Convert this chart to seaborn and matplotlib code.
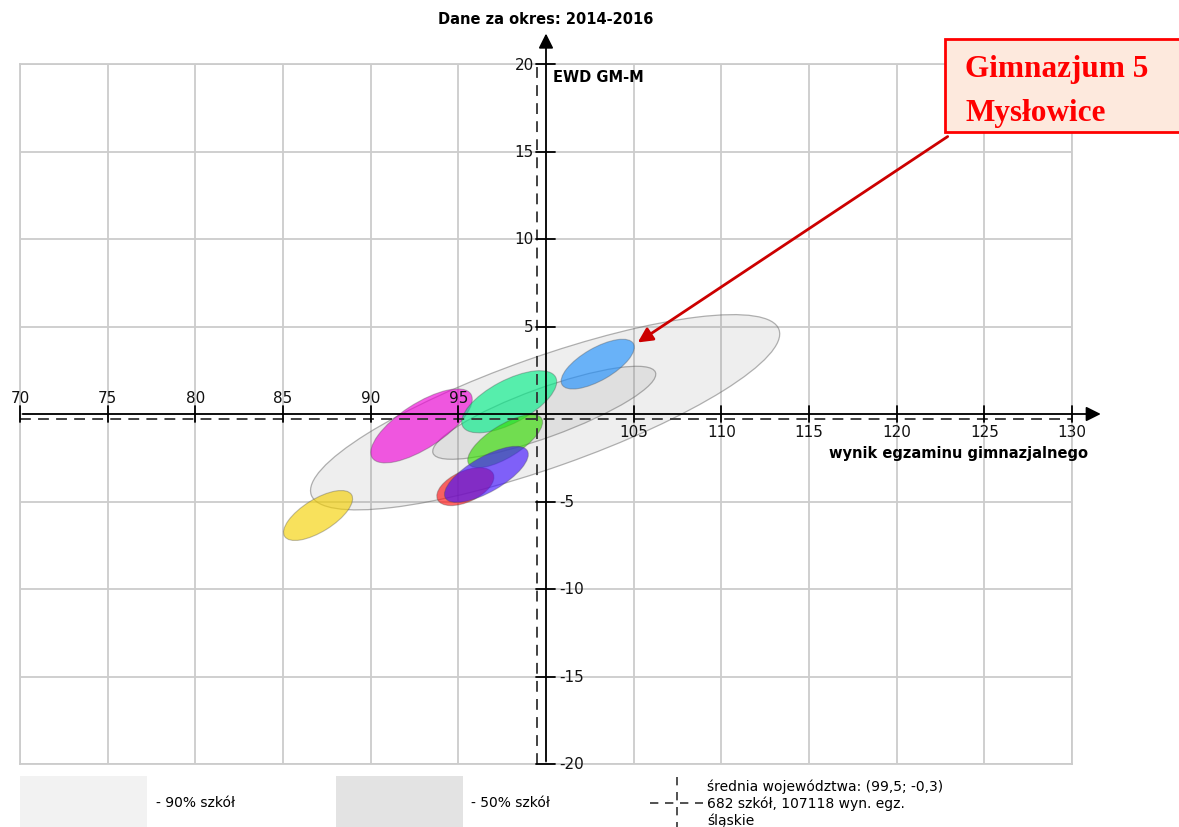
import matplotlib
matplotlib.use("Agg")
import matplotlib.pyplot as plt
from matplotlib.patches import Ellipse, Rectangle
from matplotlib.lines import Line2D
from matplotlib.colors import to_rgba
import seaborn as sns
import numpy as np

# --- data ---
# grey reference ellipses (90% / 50% of schools)
ref_labels = ["90%", "50%"]
ref_x = [99.95, 99.9]
ref_y = [0.1, 0.07]
ref_w = [28.3, 13.5]
ref_h = [6.3, 2.8]
ref_angle = [19.5, 20.0]

# school ellipses (yearly results)
school_x = [87.0, 92.9, 97.9, 97.67, 95.4, 96.6, 102.95]
school_y = [-5.8, -0.68, 0.7, -1.55, -4.15, -3.45, 2.85]
school_w = [4.5, 6.7, 6.0, 4.9, 3.5, 5.4, 4.7]
school_h = [1.85, 2.55, 2.45, 1.85, 1.75, 2.0, 1.85]
school_angle = [32, 33, 28, 32, 25, 30, 30]
school_colors = ["#f5d000", "#f000d8", "#00ee88", "#33dd00", "#ff1010", "#4010ff", "#1e90ff"]

mean_x, mean_y = 99.5, -0.3
target_x, target_y = 105.1, 4.0

x_ticks = list(range(70, 131, 5))
y_ticks = list(range(-20, 21, 5))

sns.set_theme(style="whitegrid")
plt.rcParams["font.family"] = ["DejaVu Sans"]
plt.rcParams["text.color"] = "black"

W, H = 1179, 828
fig = plt.figure(figsize=(W / 100, H / 100), dpi=100)
ax = fig.add_axes([20 / W, 63 / H, 1052 / W, 700 / H])
ax.set_xlim(70, 130)
ax.set_ylim(-20, 20)
ax.set_xticks(x_ticks)
ax.set_yticks(y_ticks)
ax.set_xticklabels([])
ax.set_yticklabels([])
ax.tick_params(length=0)
ax.grid(True, color="#cccccc", lw=1.3)
for s in ax.spines.values():
    s.set_color("#cccccc")
    s.set_linewidth(1.3)

# grey ellipses
for i in range(len(ref_x)):
    ax.add_patch(Ellipse((ref_x[i], ref_y[i]), ref_w[i], ref_h[i], angle=ref_angle[i],
                         facecolor=(0.5, 0.5, 0.5, 0.13), edgecolor=(0.4, 0.4, 0.4, 0.5), lw=0.9))

# school ellipses
for i in range(len(school_x)):
    ax.add_patch(Ellipse((school_x[i], school_y[i]), school_w[i], school_h[i], angle=school_angle[i],
                         facecolor=to_rgba(school_colors[i], 0.64),
                         edgecolor=(0.3, 0.3, 0.3, 0.35), lw=0.8))

# mean dashed lines
ax.plot([70, 130], [mean_y, mean_y], color="#333333", lw=1.3, ls=(0, (6, 4)), zorder=5)
ax.plot([mean_x, mean_x], [-20, 20], color="#333333", lw=1.3, ls=(0, (6, 4)), zorder=5)

# solid axes with arrows
ax.annotate("", xy=(131.8, 0), xytext=(70, 0),
            arrowprops=dict(arrowstyle="-|>", color="black", lw=1.3, mutation_scale=22),
            annotation_clip=False, zorder=6)
ax.annotate("", xy=(100, 21.9), xytext=(100, -20),
            arrowprops=dict(arrowstyle="-|>", color="black", lw=1.3, mutation_scale=22),
            annotation_clip=False, zorder=6)

# ticks and labels on axes
for xt in x_ticks:
    if xt == 100:
        continue
    ax.plot([xt, xt], [0.45, -0.45], color="black", lw=1.3, zorder=6, clip_on=False)
    if xt < 100:
        ax.text(xt, 0.5, str(xt), ha="center", va="bottom", fontsize=11, color="#111111")
    else:
        ax.text(xt, -0.55, str(xt), ha="center", va="top", fontsize=11, color="#111111")
for yt in y_ticks:
    if yt == 0:
        continue
    ax.plot([99.45, 100.5], [yt, yt], color="black", lw=1.3, zorder=6, clip_on=False)
    if yt > 0:
        ax.text(99.3, yt, str(yt), ha="right", va="center", fontsize=11, color="#111111")
    else:
        ax.text(100.75, yt, str(yt), ha="left", va="center", fontsize=11, color="#111111")

ax.text(100, 22.6, "Dane za okres: 2014-2016", ha="center", va="center",
        fontsize=10.5, fontweight="bold", color="black", clip_on=False)
ax.text(100.4, 19.3, "EWD GM-M", ha="left", va="center", fontsize=10.5, fontweight="bold", color="black")
ax.text(130.9, -2.2, "wynik egzaminu gimnazjalnego", ha="right", va="center",
        fontsize=10.5, fontweight="bold", color="black", clip_on=False)

# callout box
fig.add_artist(Rectangle((945 / W, (H - 133) / H), 260 / W, 93 / H, transform=fig.transFigure,
                         facecolor="#fde9dd", edgecolor="#ff0000", lw=2))
fig.text(965 / W, (H - 70) / H, "Gimnazjum 5", ha="left", va="center", color="#ff0000",
         fontsize=22.5, fontweight="bold", family="Liberation Serif")
fig.text(965 / W, (H - 113) / H, "Mysłowice", ha="left", va="center", color="#ff0000",
         fontsize=22.5, fontweight="bold", family="Liberation Serif")
ax.annotate("", xy=(target_x, target_y), xytext=(950, H - 136), textcoords="figure pixels",
            arrowprops=dict(arrowstyle="-|>", color="#cc0000", lw=2, mutation_scale=22),
            annotation_clip=False, zorder=7)

# legend at the bottom
fig.add_artist(Rectangle((20 / W, 0), 127 / W, 51 / H, transform=fig.transFigure,
                         facecolor="#f2f2f2", edgecolor="none"))
fig.text(156 / W, (H - 803) / H, "- 90% szkół", ha="left", va="center", fontsize=10, color="black")
fig.add_artist(Rectangle((336 / W, 0), 127 / W, 51 / H, transform=fig.transFigure,
                         facecolor="#e3e3e3", edgecolor="none"))
fig.text(471 / W, (H - 803) / H, "- 50% szkół", ha="left", va="center", fontsize=10, color="black")
fig.add_artist(Line2D([650 / W, 703 / W], [(H - 804) / H] * 2, transform=fig.transFigure,
                      color="#333333", lw=1.2, ls=(0, (5, 4))))
fig.add_artist(Line2D([677 / W] * 2, [(H - 778) / H, (H - 828) / H], transform=fig.transFigure,
                      color="#333333", lw=1.2, ls=(0, (5, 4))))
fig.text(707 / W, (H - 787) / H, "średnia województwa: (99,5; -0,3)", ha="left", va="center",
         fontsize=10, color="black")
fig.text(707 / W, (H - 804) / H, "682 szkół, 107118 wyn. egz.", ha="left", va="center",
         fontsize=10, color="black")
fig.text(707 / W, (H - 821) / H, "śląskie", ha="left", va="center", fontsize=10, color="black")

fig.savefig("out.png", dpi=100)
